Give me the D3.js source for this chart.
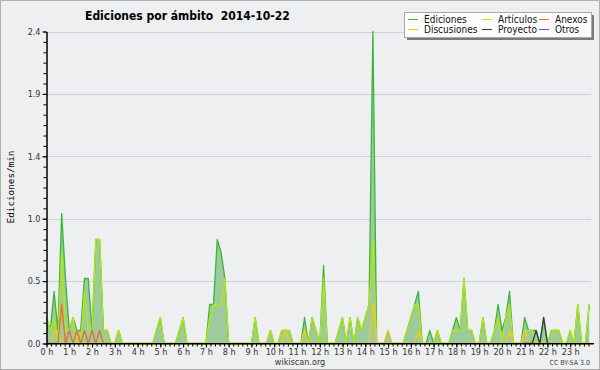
<!DOCTYPE html>
<html>
<head>
<meta charset="utf-8">
<script src="https://cdn.jsdelivr.net/npm/d3@7"></script>
<style>
  html, body { margin: 0; padding: 0; background: #edeff1; }
  svg { display: block; }
  text { font-family: "DejaVu Sans Condensed", "DejaVu Sans", sans-serif; }
</style>
</head>
<body>
<svg width="600" height="370"></svg>
<script>
// one value every 10 minutes, 6 per row = one hour per row
const ediciones = [
  0.2, 0.1, 0.4, 0.1, 1.0, 0.5,
  0.1, 0.2, 0.1, 0.1, 0.5, 0.5,
  0.1, 0.8, 0.8, 0.1, 0.1, 0,
  0, 0.1, 0, 0, 0, 0,
  0, 0, 0, 0, 0, 0.1,
  0.2, 0, 0, 0, 0, 0.1,
  0.2, 0, 0, 0, 0, 0,
  0, 0.3, 0.3, 0.8, 0.7, 0.5,
  0, 0, 0, 0, 0, 0,
  0, 0.2, 0, 0, 0, 0.1,
  0, 0, 0.1, 0.1, 0.1, 0,
  0, 0, 0.2, 0, 0.2, 0.1,
  0, 0.6, 0, 0, 0, 0.1,
  0.2, 0, 0.2, 0, 0.2, 0.1,
  0.2, 0.3, 2.4, 0, 0, 0,
  0.1, 0, 0, 0, 0, 0.1,
  0.2, 0.3, 0.4, 0, 0, 0.1,
  0, 0.1, 0, 0, 0, 0.1,
  0.2, 0.1, 0.5, 0.1, 0.1, 0,
  0, 0.2, 0, 0, 0.1, 0.3,
  0.1, 0.2, 0.4, 0, 0, 0,
  0.2, 0.1, 0.1, 0.1, 0, 0.2,
  0, 0.1, 0.1, 0.1, 0, 0,
  0.1, 0, 0.3, 0, 0, 0.3
];

const articulos = [
  0.2, 0.1, 0.2, 0, 0.7, 0.1,
  0.1, 0.2, 0, 0, 0.4, 0.1,
  0.1, 0.8, 0.8, 0.1, 0.1, 0,
  0, 0.1, 0, 0, 0, 0,
  0, 0, 0, 0, 0, 0.1,
  0.2, 0, 0, 0, 0, 0.1,
  0.2, 0, 0, 0, 0, 0,
  0, 0.2, 0.3, 0.3, 0.3, 0.5,
  0, 0, 0, 0, 0, 0,
  0, 0.2, 0, 0, 0, 0.1,
  0, 0, 0, 0.1, 0.1, 0,
  0, 0, 0.1, 0, 0.2, 0.1,
  0, 0.5, 0, 0, 0, 0.1,
  0.2, 0, 0.2, 0, 0.2, 0.1,
  0.2, 0.3, 0.8, 0, 0, 0,
  0, 0, 0, 0, 0, 0.1,
  0.2, 0.3, 0.3, 0, 0, 0,
  0, 0.1, 0, 0, 0, 0.1,
  0.1, 0.1, 0.5, 0.1, 0.1, 0,
  0, 0.2, 0, 0, 0.1, 0.2,
  0, 0.2, 0.3, 0, 0, 0,
  0.1, 0.1, 0.1, 0, 0, 0,
  0, 0.1, 0.1, 0.1, 0, 0,
  0.1, 0, 0.3, 0, 0, 0.3
];

const discusiones = [
  0, 0, 0.1, 0.1, 0, 0,
  0, 0, 0.1, 0, 0, 0,
  0, 0, 0, 0, 0, 0,
  0, 0, 0, 0, 0, 0,
  0, 0, 0, 0, 0, 0,
  0, 0, 0, 0, 0, 0,
  0, 0, 0, 0, 0, 0,
  0, 0, 0, 0, 0, 0,
  0, 0, 0, 0, 0, 0,
  0, 0, 0, 0, 0, 0,
  0, 0, 0.1, 0.1, 0, 0,
  0, 0, 0.1, 0, 0, 0,
  0, 0, 0, 0, 0, 0,
  0, 0, 0, 0, 0, 0,
  0, 0, 0.3, 0, 0, 0,
  0.1, 0, 0, 0, 0, 0,
  0, 0, 0.1, 0, 0, 0,
  0, 0, 0, 0, 0, 0,
  0, 0, 0, 0, 0, 0,
  0, 0, 0, 0, 0, 0,
  0, 0, 0.1, 0, 0, 0,
  0.1, 0, 0, 0, 0, 0,
  0, 0, 0, 0, 0, 0,
  0, 0, 0, 0, 0, 0
];

// anexos only has activity in the first three hours
const anexos = [
  0, 0, 0, 0, 0.3, 0,
  0.1, 0, 0.1, 0, 0.1, 0,
  0.1, 0, 0.1, 0, 0, 0
];

// proyecto only has activity between 21 h and 22 h
const proyectoStart = 126;
const proyecto = [0, 0, 0, 0.1, 0, 0.2, 0];

const hourLabels = [
  "0 h", "1 h", "2 h", "3 h", "4 h", "5 h", "6 h", "7 h", "8 h", "9 h", "10 h", "11 h",
  "12 h", "13 h", "14 h", "15 h", "16 h", "17 h", "18 h", "19 h", "20 h", "21 h", "22 h", "23 h"
];
const yTickValues = [0, 0.48, 0.96, 1.44, 1.92, 2.4];
const yTickLabels = ["0.0", "0.5", "1.0", "1.4", "1.9", "2.4"];

const legendItems = [
  { name: "Ediciones", color: "#3cb43c" },
  { name: "Artículos", color: "#b4e614" },
  { name: "Anexos", color: "#f06a28" },
  { name: "Discusiones", color: "#f2c81e" },
  { name: "Proyecto", color: "#3a3a3a" },
  { name: "Otros", color: "#8c3cf0" }
];

const svg = d3.select("svg");

const x = d3.scaleLinear().domain([0, 24]).range([46.5, 593]);
const y = d3.scaleLinear().domain([0, 2.4]).range([343.5, 31.5]);

// background + frame
svg.append("rect")
  .attr("width", 600).attr("height", 370)
  .attr("fill", "#edeff1");
svg.append("rect")
  .attr("x", 0.5).attr("y", 0.5).attr("width", 599).attr("height", 369)
  .attr("fill", "none").attr("stroke", "#b0b0b0");

// horizontal grid
svg.append("g")
  .selectAll("line")
  .data(yTickValues.slice(1))
  .join("line")
    .attr("x1", x(0)).attr("x2", 591)
    .attr("y1", d => Math.round(y(d)) + 0.5)
    .attr("y2", d => Math.round(y(d)) + 0.5)
    .attr("stroke", "#cfd0d3");

const xi = (i, off) => x((i + (off || 0)) / 6);

const area = d3.area()
  .x((d, i) => xi(i))
  .y0(y(0))
  .y1(d => y(d));

const line = off => d3.line()
  .x((d, i) => xi(i, off))
  .y(d => y(d));

svg.append("path")
  .datum(ediciones)
  .attr("d", area)
  .attr("fill", "#9dcb9d");

const series = [
  { data: ediciones, off: 0, color: legendItems[0].color },
  { data: articulos, off: 0, color: legendItems[1].color },
  { data: discusiones, off: 0, color: legendItems[3].color },
  { data: anexos, off: 0, color: legendItems[2].color },
  { data: proyecto, off: proyectoStart, color: legendItems[4].color }
];

series.forEach(s => {
  svg.append("path")
    .datum(s.data)
    .attr("d", line(s.off))
    .attr("fill", "none")
    .attr("stroke", s.color)
    .attr("stroke-width", 1.3)
    .attr("stroke-linejoin", "round");
});

// axes
const yAxis = svg.append("g")
  .attr("transform", "translate(46.5,0)")
  .call(d3.axisLeft(y)
    .tickValues(yTickValues)
    .tickFormat((d, i) => yTickLabels[i])
    .tickSize(4)
    .tickSizeOuter(0)
    .tickPadding(2));
yAxis.append("g")
  .call(d3.axisLeft(y)
    .tickValues(d3.range(31).map(k => k * 0.08))
    .tickFormat("")
    .tickSize(3)
    .tickSizeOuter(0));

const xAxis = svg.append("g")
  .attr("transform", "translate(0,343.5)")
  .call(d3.axisBottom(x)
    .tickValues(d3.range(24))
    .tickFormat(h => hourLabels[h])
    .tickSize(4)
    .tickSizeOuter(0)
    .tickPadding(1));
xAxis.append("g")
  .call(d3.axisBottom(x)
    .tickValues(d3.range(120).map(k => k * 0.2))
    .tickFormat("")
    .tickSize(3)
    .tickSizeOuter(0));
xAxis.select(".domain").attr("d", "M46.5,0H594");

svg.selectAll(".tick text")
  .attr("fill", "#333")
  .style("font-size", "9px");
svg.selectAll(".domain, .tick line").attr("stroke", "#000");

// titles
svg.append("text")
  .attr("x", 85).attr("y", 19.5)
  .attr("xml:space", "preserve")
  .style("white-space", "pre")
  .style("font-size", "12px")
  .style("font-weight", "bold")
  .text("Ediciones por ámbito  2014-10-22");

svg.append("text")
  .attr("transform", "translate(14,187) rotate(-90)")
  .attr("text-anchor", "middle")
  .style("font-family", "DejaVu Sans Mono")
  .style("font-size", "9.3px")
  .text("Ediciones/min");

svg.append("text")
  .attr("x", 300).attr("y", 365)
  .attr("text-anchor", "middle")
  .attr("fill", "#333")
  .style("font-size", "9px")
  .text("wikiscan.org");

svg.append("text")
  .attr("x", 590).attr("y", 365)
  .attr("text-anchor", "end")
  .attr("fill", "#444")
  .style("font-size", "7px")
  .text("CC BY-SA 3.0");

// legend box with shadow
const legend = svg.append("g").attr("transform", "translate(404,12)");
legend.append("rect")
  .attr("x", 3).attr("y", 3).attr("width", 187).attr("height", 25)
  .attr("fill", "#7a7a7a");
legend.append("rect")
  .attr("x", 0.5).attr("y", 0.5).attr("width", 187).attr("height", 25)
  .attr("fill", "#fcfcfc")
  .attr("stroke", "#a8a8a8");

const colX = [4, 78, 135];
legendItems.forEach((item, i) => {
  const cx = colX[i % 3];
  const cy = i < 3 ? 7.5 : 17.5;
  legend.append("line")
    .attr("x1", cx).attr("x2", cx + 10)
    .attr("y1", cy).attr("y2", cy)
    .attr("stroke", item.color);
  legend.append("text")
    .attr("x", cx + 16).attr("y", cy + 3.5)
    .style("font-size", "10px")
    .attr("fill", "#111")
    .text(item.name);
});
</script>
</body>
</html>
